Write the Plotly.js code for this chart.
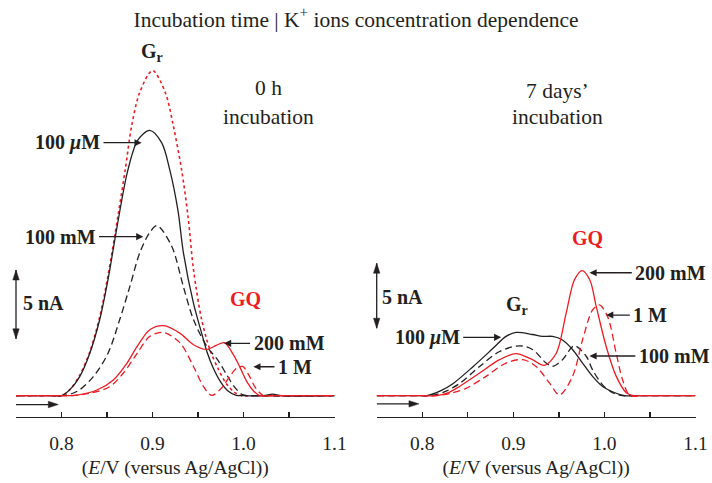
<!DOCTYPE html>
<html>
<head>
<meta charset="utf-8">
<script src="https://cdn.plot.ly/plotly-3.0.1.min.js"></script>
<style>html,body{margin:0;padding:0;background:#fff;}#chart{width:712px;height:483px;}</style>
</head>
<body>
<div id="chart"></div>
<script>
// ---- Data (E in V, current in nA above baseline) ----
// Left panel: 0 h incubation
const L_dot_x   = [0.75, 0.79, 0.80, 0.810, 0.820, 0.831, 0.842, 0.851, 0.862, 0.870, 0.877, 0.886, 0.900, 0.914, 0.923, 0.932, 0.939, 0.945, 0.954, 0.963, 0.972, 0.981, 0.990, 0.998, 1.01, 1.1];
const L_dot_y   = [0, 0, 0, 0.5, 1.5, 3.2, 5.8, 8.8, 13.2, 16.6, 19.8, 22.3, 23.9, 22.3, 19.8, 16.6, 13.2, 9.3, 5.6, 3.4, 2.0, 0.9, 0.25, 0, 0, 0];

const L_100uM_x = [0.75, 0.79, 0.80, 0.810, 0.820, 0.831, 0.842, 0.851, 0.861, 0.873, 0.884, 0.897, 0.910, 0.919, 0.928, 0.934, 0.945, 0.954, 0.960, 0.967, 0.975, 0.983, 0.992, 1.0, 1.022, 1.032, 1.042, 1.1];
const L_100uM_y = [0, 0, 0, 0.5, 1.4, 3.1, 5.6, 8.5, 12.4, 16.6, 18.8, 19.5, 18.6, 16.6, 13.6, 10.5, 6.8, 4.6, 3.2, 2.0, 1.0, 0.35, 0.03, 0, 0, 0.12, 0, 0];

const L_100mM_x = [0.75, 0.79, 0.80, 0.810, 0.820, 0.835, 0.851, 0.864, 0.875, 0.886, 0.897, 0.905, 0.921, 0.934, 0.945, 0.960, 0.972, 0.981, 0.990, 0.999, 1.01, 1.1];
const L_100mM_y = [0, 0, 0, 0.12, 0.44, 1.4, 3.1, 5.6, 8.0, 10.5, 12.0, 12.5, 11.0, 8.0, 5.6, 3.6, 2.6, 1.6, 0.65, 0.08, 0, 0];

const L_200mM_x = [0.75, 0.80, 0.805, 0.817, 0.839, 0.857, 0.872, 0.883, 0.897, 0.912, 0.930, 0.945, 0.960, 0.970, 0.979, 0.989, 0.996, 1.004, 1.011, 1.018, 1.03, 1.1];
const L_200mM_y = [0, 0, 0, 0.05, 0.42, 1.16, 2.4, 3.6, 4.85, 5.15, 4.6, 3.75, 3.4, 3.7, 3.9, 3.0, 2.1, 1.0, 0.35, 0, 0, 0];

const L_1M_x    = [0.75, 0.80, 0.81, 0.831, 0.853, 0.868, 0.883, 0.897, 0.912, 0.930, 0.945, 0.956, 0.965, 0.975, 0.985, 0.992, 0.999, 1.006, 1.013, 1.022, 1.03, 1.1];
const L_1M_y    = [0, 0, 0, 0.18, 0.66, 1.67, 3.1, 4.36, 4.65, 3.9, 2.15, 0.68, 0.02, 0.5, 1.42, 2.0, 2.15, 1.5, 0.6, 0, 0, 0];

// Right panel: 7 days' incubation
const R_100uM_x = [0.75, 0.80, 0.805, 0.820, 0.834, 0.856, 0.878, 0.892, 0.903, 0.921, 0.932, 0.943, 0.954, 0.965, 0.976, 0.987, 0.998, 1.013, 1.022, 1.03, 1.1];
const R_100uM_y = [0, 0, 0, 0.35, 0.9, 2.15, 3.5, 4.36, 4.65, 4.5, 4.36, 4.36, 4.1, 3.4, 2.4, 1.42, 0.68, 0.18, 0, 0, 0];

const R_100mM_x = [0.75, 0.80, 0.81, 0.825, 0.841, 0.863, 0.885, 0.907, 0.921, 0.936, 0.943, 0.954, 0.967, 0.980, 0.987, 0.998, 1.009, 1.02, 1.03, 1.1];
const R_100mM_y = [0, 0, 0, 0.3, 0.9, 2.15, 3.25, 3.67, 3.4, 2.4, 2.15, 2.65, 3.67, 2.9, 1.9, 0.8, 0.22, 0, 0, 0];

const R_200mM_x = [0.75, 0.80, 0.815, 0.828, 0.841, 0.863, 0.885, 0.903, 0.921, 0.934, 0.947, 0.958, 0.967, 0.9755, 0.984, 0.991, 1.002, 1.013, 1.024, 1.032, 1.04, 1.1];
const R_200mM_y = [0, 0, 0, 0.2, 0.68, 1.67, 2.65, 3.1, 2.65, 2.23, 3.1, 6.07, 8.5, 9.2, 8.5, 6.57, 3.6, 1.42, 0.22, 0, 0, 0];

const R_1M_x    = [0.75, 0.80, 0.815, 0.830, 0.848, 0.870, 0.892, 0.9105, 0.925, 0.940, 0.9507, 0.965, 0.976, 0.987, 0.9945, 1.0036, 1.013, 1.020, 1.028, 1.04, 1.1];
const R_1M_y    = [0, 0, 0, 0.15, 0.54, 1.42, 2.4, 2.65, 2.15, 0.9, 0.05, 1.42, 4.1, 6.3, 6.67, 5.8, 3.1, 1.16, 0, 0, 0];

// Axis ticks
const tickVals  = [0.8, 0.9, 1.0, 1.1];
const tickText  = ['0.8', '0.9', '1.0', '1.1'];
const minorVals = [0.75, 0.85, 0.95, 1.05];

// ---- Styling ----
const FONT = '"Liberation Serif", "Times New Roman", serif';
const BLACK = '#231f20';
const RED = '#ed1c24';
const W = 712, H = 483;
const DOM_L = [16 / W, 334.5 / W];
const DOM_R = [376.7 / W, 695.5 / W];

function tr(x, y, xa, color, dash, width) {
  return {x: x, y: y, xaxis: xa, yaxis: 'y', type: 'scatter', mode: 'lines',
    line: {color: color, dash: dash, width: width || 1.3, shape: 'spline', smoothing: 0.9},
    hoverinfo: 'skip', showlegend: false};
}
const DASH = '7px,4px';
const traces = [
  tr(L_dot_x, L_dot_y, 'x', RED, 'dot', 1.6),
  tr(L_100uM_x, L_100uM_y, 'x', BLACK, 'solid'),
  tr(L_100mM_x, L_100mM_y, 'x', BLACK, DASH),
  tr(L_200mM_x, L_200mM_y, 'x', RED, 'solid'),
  tr(L_1M_x, L_1M_y, 'x', RED, DASH),
  tr(R_100uM_x, R_100uM_y, 'x2', BLACK, 'solid'),
  tr(R_100mM_x, R_100mM_y, 'x2', BLACK, DASH),
  tr(R_200mM_x, R_200mM_y, 'x2', RED, 'solid'),
  tr(R_1M_x, R_1M_y, 'x2', RED, DASH)
];

function xaxisDef(domain) {
  return {domain: domain, range: [0.75, 1.1], anchor: 'y',
    tickmode: 'array', tickvals: tickVals, ticktext: tickText,
    ticks: 'inside', ticklen: 5, tickwidth: 1.3, tickcolor: BLACK,
    minor: {tickvals: minorVals, ticks: 'inside', ticklen: 5, tickwidth: 1.3, tickcolor: BLACK, showgrid: false},
    ticklabelstandoff: 8,
    showline: true, linecolor: BLACK, linewidth: 1.3,
    showgrid: false, zeroline: false, fixedrange: true,
    tickfont: {family: FONT, size: 19.5, color: BLACK},
    title: {text: '(<i>E</i>/V (versus Ag/AgCl))', font: {family: FONT, size: 19.5, color: BLACK}, standoff: 7}};
}

function txt(xref, x, y, text, size, color) {
  return {xref: xref, yref: 'y', x: x, y: y, text: text, showarrow: false,
    xanchor: 'center', yanchor: 'middle',
    font: {family: FONT, size: size, color: color || BLACK}};
}
// label with arrow: text centred at (tx, y), arrow tip at (tipx, y)
function lab(xref, tx, y, tipx, text) {
  return {xref: xref, yref: 'y', axref: xref, ayref: 'y', x: tipx, y: y, ax: tx, ay: y,
    text: text, showarrow: true, arrowhead: 2, arrowsize: 1.1, arrowwidth: 1.3,
    arrowcolor: BLACK, standoff: 0, borderpad: 3,
    font: {family: FONT, size: 20, color: BLACK}};
}

// plain arrows (scale bars, sweep direction) drawn as shapes, anchored at the panel's left edge (paper x)
function seg(px, y0, y1) {
  return {type: 'line', xref: 'paper', yref: 'y', x0: px, y0: y0, x1: px, y1: y1,
    line: {color: BLACK, width: 1.3}, layer: 'above'};
}
function hseg(xref, x0, x1, y) {
  return {type: 'line', xref: xref, yref: 'y', x0: x0, y0: y, x1: x1, y1: y,
    line: {color: BLACK, width: 1.3}, layer: 'above'};
}
// arrow head with tip at (x,y); dir: 'up', 'down', 'right'
function head(xref, x, y, dir) {
  const p = {up: 'M0,0 L-3.2,-10 L3.2,-10 Z', down: 'M0,0 L-3.2,10 L3.2,10 Z', right: 'M0,0 L-10,3.2 L-10,-3.2 Z'}[dir];
  return {type: 'path', xref: xref, yref: 'y', xsizemode: 'pixel', ysizemode: 'pixel',
    xanchor: x, yanchor: y, path: p, fillcolor: BLACK, line: {color: BLACK, width: 0.5}, layer: 'above'};
}

const shapes = [
  seg(DOM_L[0], 9.24, 4.18), head('paper', DOM_L[0], 9.24, 'up'), head('paper', DOM_L[0], 4.18, 'down'),
  hseg('x', 0.75, 0.792, -0.65), head('x', 0.7965, -0.65, 'right'),
  seg(DOM_R[0], 9.74, 4.96), head('paper', DOM_R[0], 9.74, 'up'), head('paper', DOM_R[0], 4.96, 'down'),
  hseg('x2', 0.75, 0.792, -0.6), head('x2', 0.7964, -0.6, 'right')
];

const annotations = [
  // left panel
  txt('x', 0.8995, 25.2, '<b>G<sub>r</sub></b>', 20),
  txt('x', 1.0270, 22.6, '0 h', 21.5),
  txt('x', 1.0270, 20.5, 'incubation', 21.5),
  lab('x', 0.8066, 18.6, 0.8881, '<b>100 <i>μ</i>M</b>'),
  lab('x', 0.7984, 11.69, 0.8899, '<b>100 mM</b>'),
  txt('x', 0.7800, 6.85, '<b>5 nA</b>', 20),
  txt('x', 1.0017, 7.1, '<b>GQ</b>', 20, RED),
  lab('x', 1.0500, 3.85, 0.9786, '<b>200 mM</b>'),
  lab('x', 1.0566, 2.13, 1.0108, '<b>1 M</b>'),
  // right panel
  txt('x2', 0.9485, 22.4, '7 days’', 21.5),
  txt('x2', 0.9485, 20.5, 'incubation', 21.5),
  txt('x2', 0.9814, 11.6, '<b>GQ</b>', 20, RED),
  lab('x2', 1.0729, 9.04, 0.9836, '<b>200 mM</b>'),
  lab('x2', 1.0504, 5.93, 1.0019, '<b>1 M</b>'),
  lab('x2', 1.0768, 2.92, 0.9836, '<b>100 mM</b>'),
  txt('x2', 0.9035, 6.65, '<b>G<sub>r</sub></b>', 20),
  lab('x2', 0.8054, 4.29, 0.8867, '<b>100 <i>μ</i>M</b>'),
  txt('x2', 0.7788, 7.25, '<b>5 nA</b>', 20)
];

const layout = {
  width: W, height: H,
  margin: {l: 0, r: 0, t: 40, b: 66},
  paper_bgcolor: '#ffffff', plot_bgcolor: '#ffffff',
  showlegend: false,
  title: {text: 'Incubation time | K<sup>+</sup> ions concentration dependence',
    font: {family: FONT, size: 21.5, color: BLACK},
    x: 0.5, xanchor: 'center', y: 1 - 19 / H, yanchor: 'middle'},
  xaxis: xaxisDef(DOM_L),
  xaxis2: xaxisDef(DOM_R),
  yaxis: {range: [-1.566, 26.15], visible: false, fixedrange: true, domain: [0, 1]},
  shapes: shapes,
  annotations: annotations
};

Plotly.newPlot('chart', traces, layout, {staticPlot: true, displayModeBar: false});
</script>
</body>
</html>
